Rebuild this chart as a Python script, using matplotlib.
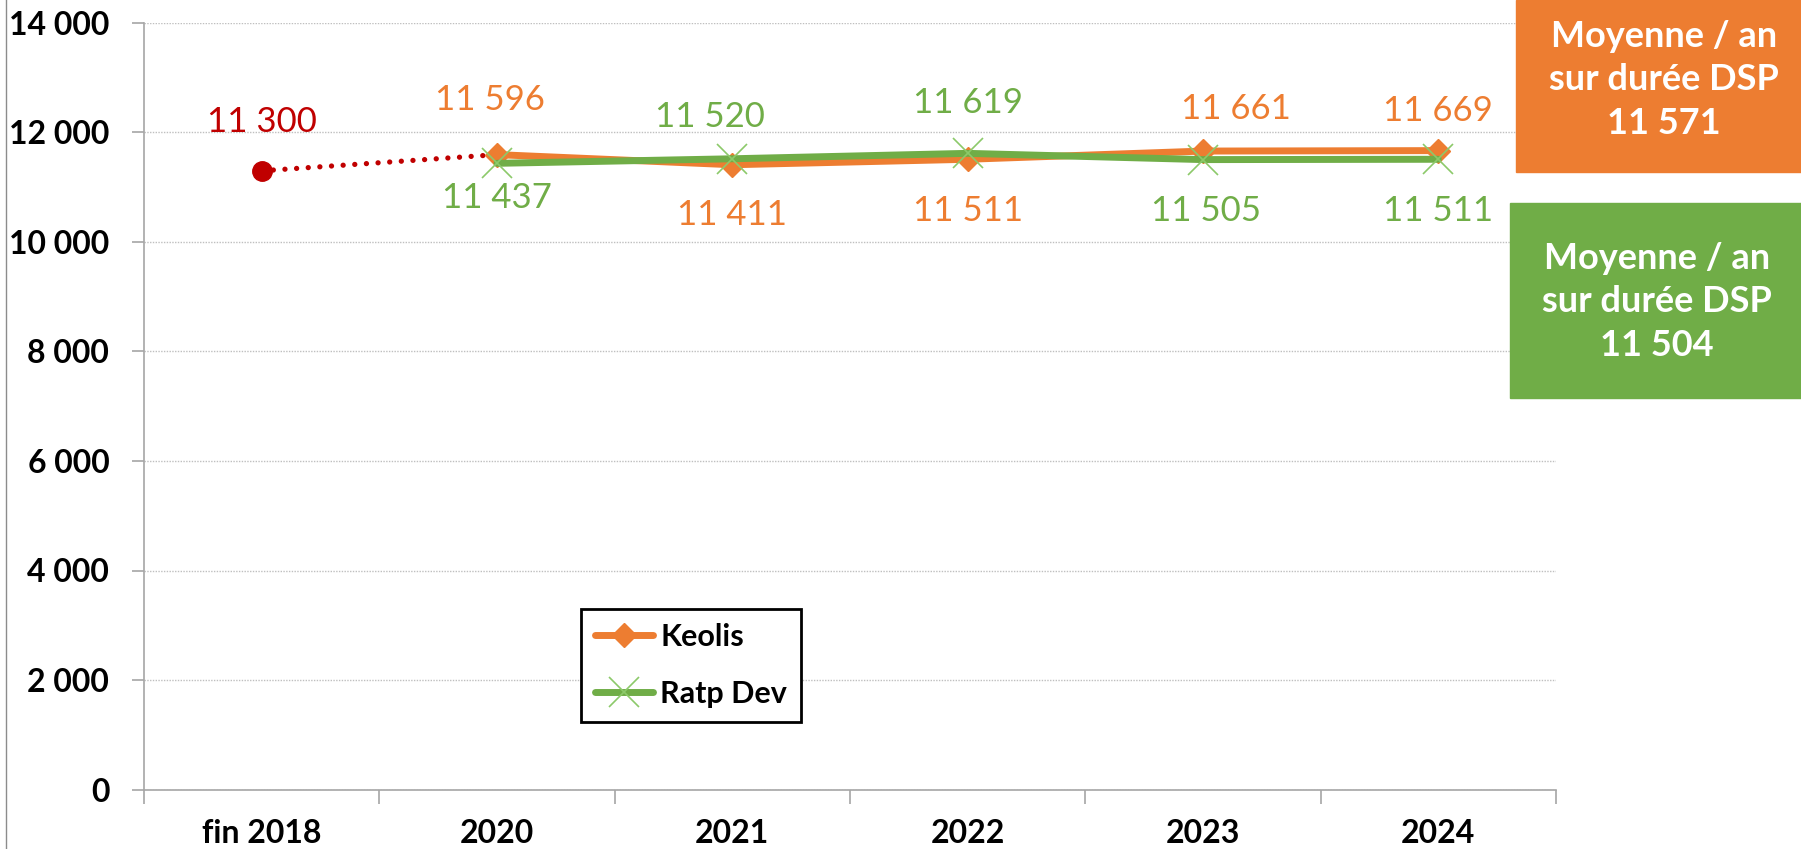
import matplotlib
matplotlib.use("Agg")
import matplotlib.pyplot as plt
from matplotlib.ticker import FuncFormatter, FixedLocator
from matplotlib.patches import Rectangle
from matplotlib.lines import Line2D

plt.rcParams['font.family'] = ['Lato', 'DejaVu Sans']

categories = ["fin 2018", "2020", "2021", "2022", "2023", "2024"]
keolis = [None, 11596, 11411, 11511, 11661, 11669]
ratp = [None, 11437, 11520, 11619, 11505, 11511]
ref_x = ["fin 2018", "2020"]
ref_vals = [11300, 11596]
keolis_avg = 11571
ratp_avg = 11504

ORANGE = "#ED7D31"
GREEN = "#70AD47"
RED = "#C00000"

def fr(v):
    return f"{v:,.0f}".replace(",", " ")

fig = plt.figure(figsize=(18.01, 8.49), dpi=100)
ax = fig.add_axes([144/1801, 1-789.5/849, (1556-144)/1801, (789.5-23)/849])

xs = list(range(len(categories)))
kx = [i for i, v in enumerate(keolis) if v is not None]
kv = [v for v in keolis if v is not None]
rx = [i for i, v in enumerate(ratp) if v is not None]
rv = [v for v in ratp if v is not None]
refx = [categories.index(c) for c in ref_x]

ax.plot(refx, ref_vals, color=RED, lw=3.8, linestyle=(0, (0.01, 2.2)),
        dash_capstyle='round', marker='o', markersize=14, markevery=[0], zorder=3)
ax.plot(kx, kv, color=ORANGE, lw=5, marker='D', markersize=12, label="Keolis",
        solid_capstyle='round', zorder=4)
ax.plot(rx, rv, color=GREEN, lw=5, marker='x', markersize=22, markeredgewidth=1.2,
        markeredgecolor="#8CC96A", label="Ratp Dev", solid_capstyle='round', zorder=5)

PX = 0.72  # px -> pt
lab_kw = dict(textcoords='offset points', ha='center', va='center', fontsize=25)
ax.annotate(fr(ref_vals[0]), (refx[0], ref_vals[0]), xytext=(0, 49*PX), color=RED, **lab_kw)
k_off = [(-7, 55), (0, -50), (0, -52), (33, 42), (0, 40)]
r_off = [(0, -35), (-22, 42), (0, 50), (3, -51), (0, -52)]
for x, v, (dx, dy) in zip(kx, kv, k_off):
    ax.annotate(fr(v), (x, v), xytext=(dx*PX, dy*PX), color=ORANGE, **lab_kw)
for x, v, (dx, dy) in zip(rx, rv, r_off):
    ax.annotate(fr(v), (x, v), xytext=(dx*PX, dy*PX), color=GREEN, **lab_kw)

ax.set_xlim(-0.5, len(categories)-0.5)
ax.set_ylim(0, 14000)
ax.set_yticks(range(0, 14001, 2000))
ax.yaxis.set_major_formatter(FuncFormatter(lambda v, p: fr(v)))
ax.xaxis.set_major_locator(FixedLocator([i - 0.5 for i in range(len(categories)+1)]))
ax.xaxis.set_minor_locator(FixedLocator(xs))
ax.set_xticklabels([], minor=False)
ax.set_xticklabels(categories, minor=True)
ax.tick_params(axis='x', which='major', length=10, color='#A6A6A6', width=1.2)
ax.tick_params(axis='x', which='minor', length=0, pad=21, labelsize=23)
ax.tick_params(axis='y', length=9, color='#A6A6A6', width=1.2, pad=16, labelsize=23)
for lab in ax.get_xticklabels(minor=True) + ax.get_yticklabels():
    lab.set_fontweight('bold')

ax.grid(axis='y', color='#BFBFBF', linestyle=(0, (1, 1)), linewidth=1)
ax.set_axisbelow(True)
for s in ['top', 'right']:
    ax.spines[s].set_visible(False)
for s in ['left', 'bottom']:
    ax.spines[s].set_color('#A6A6A6')
    ax.spines[s].set_linewidth(1.2)

leg = ax.legend(loc='upper left', bbox_to_anchor=(581/1801, 1-609/849),
                bbox_transform=fig.transFigure, borderaxespad=0, fancybox=False,
                edgecolor='black', framealpha=1, handlelength=1.9, handletextpad=0.25,
                labelspacing=0.95, borderpad=0.45, prop={'weight': 'bold', 'size': 22})
leg.get_frame().set_linewidth(2)

# average boxes
fig.patches.append(Rectangle((1516/1801, 1-172/849), 285/1801, 172/849,
                             transform=fig.transFigure, color=ORANGE, zorder=1))
fig.patches.append(Rectangle((1510/1801, 1-398/849), 291/1801, 195/849,
                             transform=fig.transFigure, color=GREEN, zorder=1))
fig.text(1664/1801, 1-80/849, f"Moyenne / an\nsur durée DSP\n{fr(keolis_avg)}",
         ha='center', va='center', color='white', fontsize=26, fontweight='bold',
         linespacing=1.4)
fig.text(1657/1801, 1-302/849, f"Moyenne / an\nsur durée DSP\n{fr(ratp_avg)}",
         ha='center', va='center', color='white', fontsize=26, fontweight='bold',
         linespacing=1.4)

fig.lines.append(Line2D([6/1801, 6/1801], [0, 1], transform=fig.transFigure,
                        color='#8C8C8C', lw=1))

fig.savefig("out.png", dpi=100)
